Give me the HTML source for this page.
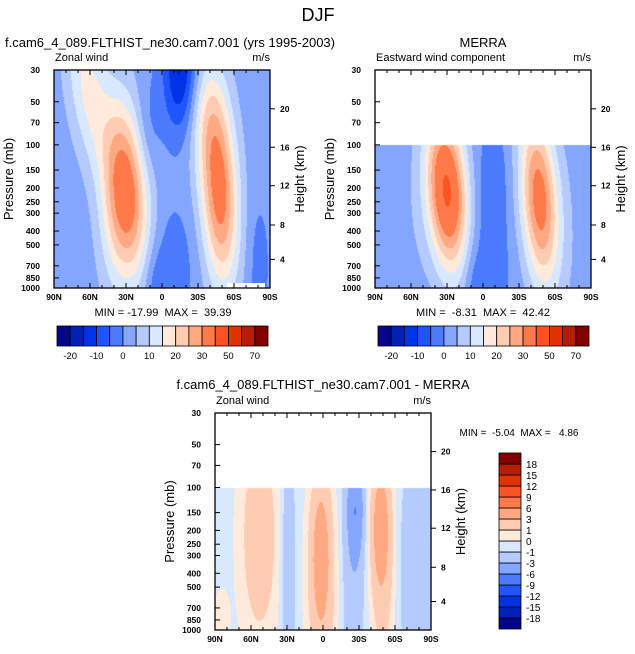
<!DOCTYPE html>
<html><head><meta charset="utf-8">
<style>
html,body{margin:0;padding:0;background:#fff;}
#wrap{position:relative;width:635px;height:654px;overflow:hidden;font-family:"Liberation Sans",sans-serif;}
canvas{position:absolute;}
svg{position:absolute;left:0;top:0;}
text{white-space:pre;}
</style></head>
<body>
<div id="wrap">
<canvas id="c1"></canvas>
<canvas id="c2"></canvas>
<canvas id="c3"></canvas>
<svg id="svg" width="635" height="654"></svg>
</div>
<script>
// ---- data ----
const levels1 = [-20,-15,-10,-5,0,5,10,15,20,25,30,40,50,60,70];
const levels3 = [-18,-15,-12,-9,-6,-3,-1,0,1,3,6,9,12,15,18];
const colors = ["#06068a","#0022b4","#0033e6","#1e55ff","#4a7bff","#84a6ff","#b5caff","#d8e8ff",
                "#ffeadb","#ffcbb2","#ffa982","#ff7a48","#ff5222","#e23200","#b31f00","#820000"];
const latTicks = [-90,-60,-30,0,30,60,90];
const latTickLabels = ["90N","60N","30N","0","30S","60S","90S"];
const presTicks = [30,50,70,100,150,200,250,300,400,500,700,850,1000];
const heightTickPres = [56,104,193,363,631];
const heightTickLabels = ["20","16","12","8","4"];
// panel 1 (model): latitude (S positive), pressure, amplitude, widths, tilt
const p1Lat  = [-30,-62,-42, 48, 38, 15,  8, -5, 80, -12];
const p1Pres = [210, 40,500,220, 60, 30,700,950,700,  80];
const p1Amp  = [ 33, 14,  4, 31, 10,-18, -5, -5, -4,  -5];
const p1WLat = [ 13, 12, 10, 11, 11, 10, 14,  8,  7,   8];
const p1WZ   = [1.0, .9, .8,1.05, .7, .7, .7, .4, .8,  .6];
const p1Tilt = [  3,  6,  0,  2,  0,  0,  0,  0,  0,   0];
const p1Base = 2;
// panel 2 (MERRA)
const p2Lat  = [-30, 47,  5, -8, -60, 70, 10];
const p2Pres = [210,240,500,900, 400,400,150];
const p2Amp  = [ 40, 32, -5, -4,   2,  2, -2];
const p2WLat = [ 12, 11, 12,  6,  12, 10,  8];
const p2WZ   = [ .9,1.0,1.2, .4, 1.2,1.2, .5];
const p2Tilt = [  3,  3,  0,  0,   0,  0,  0];
const p2Base = 1.5;
// panel 3 (difference)
const p3Lat  = [-53,-29, -2,  0, 27, 25, 48, 50, 78, -85];
const p3Pres = [220,350,280,600,140,500,180,500,400, 900];
const p3Amp  = [2.6,-2.3,3.8,1.8,-4.5,-1.6,4.2,1.6,-2.5,1.2];
const p3WLat = [ 12,  4,  6, 10,  5,  7,  6,  8,  9,   5];
const p3WZ   = [1.3,1.2, .9,1.4, .6,1.5, .8,1.3,1.2,  .4];
const p3Tilt = [0,0,0,0,0,0,0,0,0,0];
const p3Base = -0.5;

const panels = [
 {id:"c1",x0:54,y0:70,W:216,H:218,pMin:30,lat:p1Lat,pres:p1Pres,amp:p1Amp,wl:p1WLat,wz:p1WZ,tilt:p1Tilt,base:p1Base,levels:levels1,
  title:"Zonal wind",name:"model"},
 {id:"c2",x0:375,y0:70,W:216,H:218,pMin:100,lat:p2Lat,pres:p2Pres,amp:p2Amp,wl:p2WLat,wz:p2WZ,tilt:p2Tilt,base:p2Base,levels:levels1,
  title:"Eastward wind component",name:"merra"},
 {id:"c3",x0:215,y0:413,W:216,H:217,pMin:100,lat:p3Lat,pres:p3Pres,amp:p3Amp,wl:p3WLat,wz:p3WZ,tilt:p3Tilt,base:p3Base,levels:levels3,
  title:"Zonal wind",name:"diff"}
];
const LNR = Math.log(1000/30);
function xScale(P,lat){return P.x0+(lat+90)/180*P.W;}
function yScale(P,p){return P.y0+Math.log(p/30)/LNR*P.H;}
function field(P,lat,p){
  const z=Math.log(p); let s=P.base;
  for(let i=0;i<P.lat.length;i++){
    const zc=Math.log(P.pres[i]);
    const lc=P.lat[i]+P.tilt[i]*(z-zc);
    const dl=(lat-lc)/P.wl[i], dz=(z-zc)/P.wz[i];
    s+=P.amp[i]*Math.exp(-0.5*(dl*dl+dz*dz));
  }
  return s;
}
function levIdx(levels,v){let k=0;for(const l of levels){if(v>=l)k++;}return k;}
function hex(c){return [parseInt(c.substr(1,2),16),parseInt(c.substr(3,2),16),parseInt(c.substr(5,2),16)];}
const rgb = colors.map(hex);

panels.forEach(P=>{
  const cv=document.getElementById(P.id);
  cv.width=P.W;cv.height=P.H;cv.style.left=P.x0+"px";cv.style.top=P.y0+"px";
  const ctx=cv.getContext("2d");const img=ctx.createImageData(P.W,P.H);
  for(let j=0;j<P.H;j++){
    const p=30*Math.exp((j+0.5)/P.H*LNR);
    for(let i=0;i<P.W;i++){
      const o=(j*P.W+i)*4;
      if(p<P.pMin){img.data[o]=255;img.data[o+1]=255;img.data[o+2]=255;img.data[o+3]=255;continue;}
      const lat=-90+180*(i+0.5)/P.W;
      const c=rgb[levIdx(P.levels,field(P,lat,p))];
      img.data[o]=c[0];img.data[o+1]=c[1];img.data[o+2]=c[2];img.data[o+3]=255;
    }
  }
  ctx.putImageData(img,0,0);
});

const svg=document.getElementById("svg");
const NS="http://www.w3.org/2000/svg";
function el(tag,attrs,parent){const e=document.createElementNS(NS,tag);for(const k in attrs)e.setAttribute(k,attrs[k]);(parent||svg).appendChild(e);return e;}
function txt(s,x,y,size,anchor,name,extra){const t=el("text",Object.assign({x:x,y:y,"font-size":size,"text-anchor":anchor||"start","font-family":"Liberation Sans, sans-serif",fill:"#000"},extra||{}));t.textContent=s;return t;}

txt("DJF",318,21,18,"middle","figure-title");
txt("f.cam6_4_089.FLTHIST_ne30.cam7.001 (yrs 1995-2003)",5,47,13,"start","model-panel-title");
txt("MERRA",483,47,13,"middle","merra-panel-title");
txt("f.cam6_4_089.FLTHIST_ne30.cam7.001 - MERRA",323,389,13,"middle","diff-panel-title");

panels.forEach((P,pi)=>{
  const g=el("g",{});
  
  
  if(pi===0){el("rect",{x:227,y:283,width:38,height:5,fill:"#fff"},g);}
  el("rect",{x:P.x0,y:P.y0,width:P.W,height:P.H,fill:"none",stroke:"#000","stroke-width":1.3},g);
  txt(P.title,P.x0+1,P.y0-9,11,"start",P.name+"-subtitle");
  txt("m/s",P.x0+P.W,P.y0-9,11,"end",P.name+"-units");
  for(let lat=-90;lat<=90;lat+=10){
    const x=xScale(P,lat);const major=lat%30===0;const L=major?5:3;
    el("line",{x1:x,y1:P.y0,x2:x,y2:P.y0+L,stroke:"#000","stroke-width":1},g);
    el("line",{x1:x,y1:P.y0+P.H,x2:x,y2:P.y0+P.H-L,stroke:"#000","stroke-width":1},g);
  }
  latTicks.forEach((lat,i)=>{txt(latTickLabels[i],xScale(P,lat),P.y0+P.H+12,8.5,"middle","x-tick-label",{"font-weight":"bold"});});
  presTicks.forEach(p=>{const y=yScale(P,p);
    el("line",{x1:P.x0,y1:y,x2:P.x0+5,y2:y,stroke:"#000","stroke-width":1},g);
    txt(String(p),P.x0-14,y+3,8.5,"end","y-tick-label",{"font-weight":"bold"});});
  heightTickPres.forEach((p,i)=>{const y=yScale(P,p);
    el("line",{x1:P.x0+P.W,y1:y,x2:P.x0+P.W+5,y2:y,stroke:"#000","stroke-width":1},g);
    txt(heightTickLabels[i],P.x0+P.W+10,y+3,8.5,"start","height-tick-label",{"font-weight":"bold"});});
  const cy=P.y0+P.H/2;
  txt("Pressure (mb)",P.x0-41,cy,13,"middle","y-axis-title",{transform:`rotate(-90 ${P.x0-41} ${cy})`});
  txt("Height (km)",P.x0+P.W+34,cy,13,"middle","right-axis-title",{transform:`rotate(-90 ${P.x0+P.W+34} ${cy})`});
});
txt("MIN = -17.99  MAX =  39.39",163,316,11,"middle","model-min-max");
txt("MIN =  -8.31  MAX =  42.42",483,316,11,"middle","merra-min-max");
txt("MIN =  -5.04  MAX =   4.86",519,436,10,"middle","diff-min-max");

[[57,"model"],[378,"merra"]].forEach(([bx,nm])=>{
  const bw=211/16, by=326, bh=20;
  colors.forEach((c,i)=>{const r=el("rect",{x:bx+i*bw,y:by,width:bw,height:bh,fill:c,stroke:"#000","stroke-width":0.8});
    });
  levels1.forEach((l,i)=>{if(i%2===0)txt(String(l),bx+(i+1)*bw,by+bh+13,9.5,"middle","colorbar-label");});
});
{
  const bx=499,by=453,bw=22,bh=176/16;
  colors.forEach((c,i)=>{const r=el("rect",{x:bx,y:by+(15-i)*bh,width:bw,height:bh,fill:c,stroke:"#000","stroke-width":0.8});
    });
  levels3.forEach((l,i)=>{txt(String(l),bx+bw+5,by+(15-i)*bh+4,10,"start","diff-colorbar-label");});
}
</script>
</body></html>
